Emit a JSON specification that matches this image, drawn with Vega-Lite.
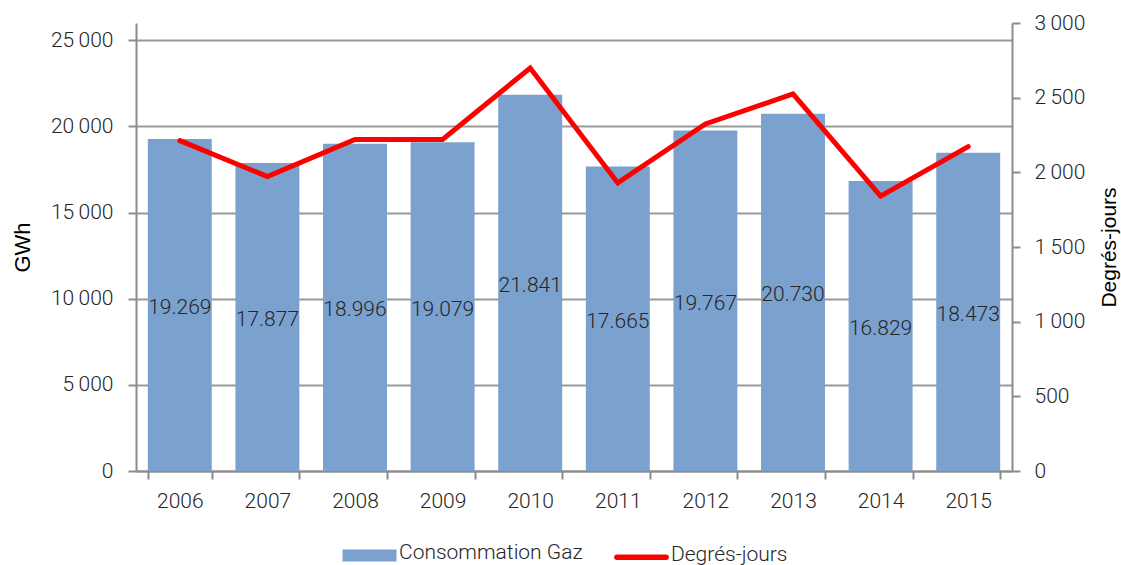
{
  "$schema": "https://vega.github.io/schema/vega-lite/v6.json",
  "width": 876,
  "height": 448,
  "autosize": {"type": "none"},
  "padding": {"left": 136, "top": 23, "right": 109, "bottom": 94},
  "background": "white",
  "data": {
    "values": [
      {"annee": "2006", "gaz": 19269, "dj": 2212},
      {"annee": "2007", "gaz": 17877, "dj": 1972},
      {"annee": "2008", "gaz": 18996, "dj": 2220},
      {"annee": "2009", "gaz": 19079, "dj": 2220},
      {"annee": "2010", "gaz": 21841, "dj": 2699},
      {"annee": "2011", "gaz": 17665, "dj": 1929},
      {"annee": "2012", "gaz": 19767, "dj": 2324},
      {"annee": "2013", "gaz": 20730, "dj": 2525},
      {"annee": "2014", "gaz": 16829, "dj": 1841},
      {"annee": "2015", "gaz": 18473, "dj": 2172}
    ]
  },
  "encoding": {
    "x": {
      "field": "annee",
      "type": "ordinal",
      "scale": {"paddingInner": 0.27, "paddingOuter": 0.135},
      "axis": {
        "title": null,
        "labelAngle": 0,
        "tickBand": "extent",
        "tickSize": 8,
        "labelPadding": 11,
        "grid": false
      }
    }
  },
  "layer": [
    {
      "mark": {"type": "bar"},
      "encoding": {
        "y": {
          "field": "gaz",
          "type": "quantitative",
          "scale": {"domain": [0, 26000], "nice": false},
          "axis": {
            "title": "GWh",
            "values": [0, 5000, 10000, 15000, 20000, 25000],
            "format": "d",
            "labelExpr": "length(datum.label) > 3 ? slice(datum.label, 0, length(datum.label) - 3) + '\u2009' + slice(datum.label, length(datum.label) - 3) : datum.label",
            "grid": true,
            "tickSize": 8,
            "labelPadding": 15,
            "titlePadding": 16,
            "titleFont": "Liberation Sans",
            "titleFontSize": 22,
            "titleFontWeight": "normal",
            "titleColor": "#000000"
          }
        },
        "color": {
          "datum": "Consommation Gaz",
          "type": "nominal",
          "scale": {"domain": ["Consommation Gaz", "Degrés-jours"], "range": ["#7BA1CE", "#FF0000"]},
          "legend": {
            "title": null,
            "orient": "none",
            "legendX": 223,
            "legendY": 519,
            "padding": 0,
            "direction": "horizontal",
            "symbolSize": 144,
            "labelOffset": 19,
            "labelLimit": 400,
            "columnPadding": 22,
            "labelFont": "Roboto",
            "labelFontSize": 21,
            "labelFontWeight": 300,
            "labelColor": "#262626",
            "encode": {
              "symbols": {
                "update": {
                  "shape": {"signal": "datum.value == 'Consommation Gaz' ? 'M-4.5,-0.55H4.5V1.45H-4.5Z' : 'M-4.1,0H4.1'"},
                  "fill": {"signal": "datum.value == 'Consommation Gaz' ? '#7BA1CE' : 'transparent'"},
                  "stroke": {"signal": "datum.value == 'Consommation Gaz' ? 'transparent' : '#FF0000'"},
                  "strokeWidth": {"value": 5.5},
                  "strokeCap": {"value": "round"},
                  "opacity": {"value": 1}
                }
              },
              "labels": {
                "update": {
                  "dy": {"signal": "datum.value == 'Degrés-jours' ? -2 : 0"}
                }
              }
            }
          }
        }
      }
    },
    {
      "mark": {"type": "text", "font": "Roboto", "fontSize": 21, "fontWeight": 300, "color": "#262626", "baseline": "middle", "dy": 3},
      "encoding": {
        "y": {
          "field": "gaz",
          "type": "quantitative",
          "scale": {"domain": [0, 52000], "nice": false},
          "axis": null
        },
        "text": {"field": "gaz", "type": "quantitative", "format": ",d"}
      }
    },
    {
      "mark": {"type": "line", "color": "#FF0000", "strokeWidth": 5, "strokeCap": "round", "strokeJoin": "miter"},
      "encoding": {
        "y": {
          "field": "dj",
          "type": "quantitative",
          "scale": {"domain": [0, 3000], "nice": false},
          "axis": {
            "orient": "right",
            "title": "Degrés-jours",
            "values": [0, 500, 1000, 1500, 2000, 2500, 3000],
            "format": "d",
            "labelExpr": "length(datum.label) > 3 ? slice(datum.label, 0, length(datum.label) - 3) + '\u2009' + slice(datum.label, length(datum.label) - 3) : datum.label",
            "grid": false,
            "tickSize": 8,
            "labelPadding": 14,
            "titlePadding": 14,
            "titleAngle": 270,
            "titleBaseline": "top",
            "titleFont": "Liberation Sans",
            "titleFontSize": 21,
            "titleFontWeight": "normal",
            "titleColor": "#000000"
          }
        }
      }
    }
  ],
  "resolve": {"scale": {"y": "independent"}},
  "config": {
    "locale": {"number": {"decimal": ",", "thousands": ".", "grouping": [3], "currency": ["", " €"]}},
    "view": {"stroke": null},
    "font": "Roboto",
    "axis": {
      "labelFont": "Roboto",
      "labelFontSize": 21,
      "labelFontWeight": 300,
      "labelColor": "#262626",
      "domainColor": "#8C8C8C",
      "domainWidth": 2,
      "tickColor": "#8C8C8C",
      "tickWidth": 2,
      "gridColor": "#999999",
      "gridWidth": 2
    }
  }
}
